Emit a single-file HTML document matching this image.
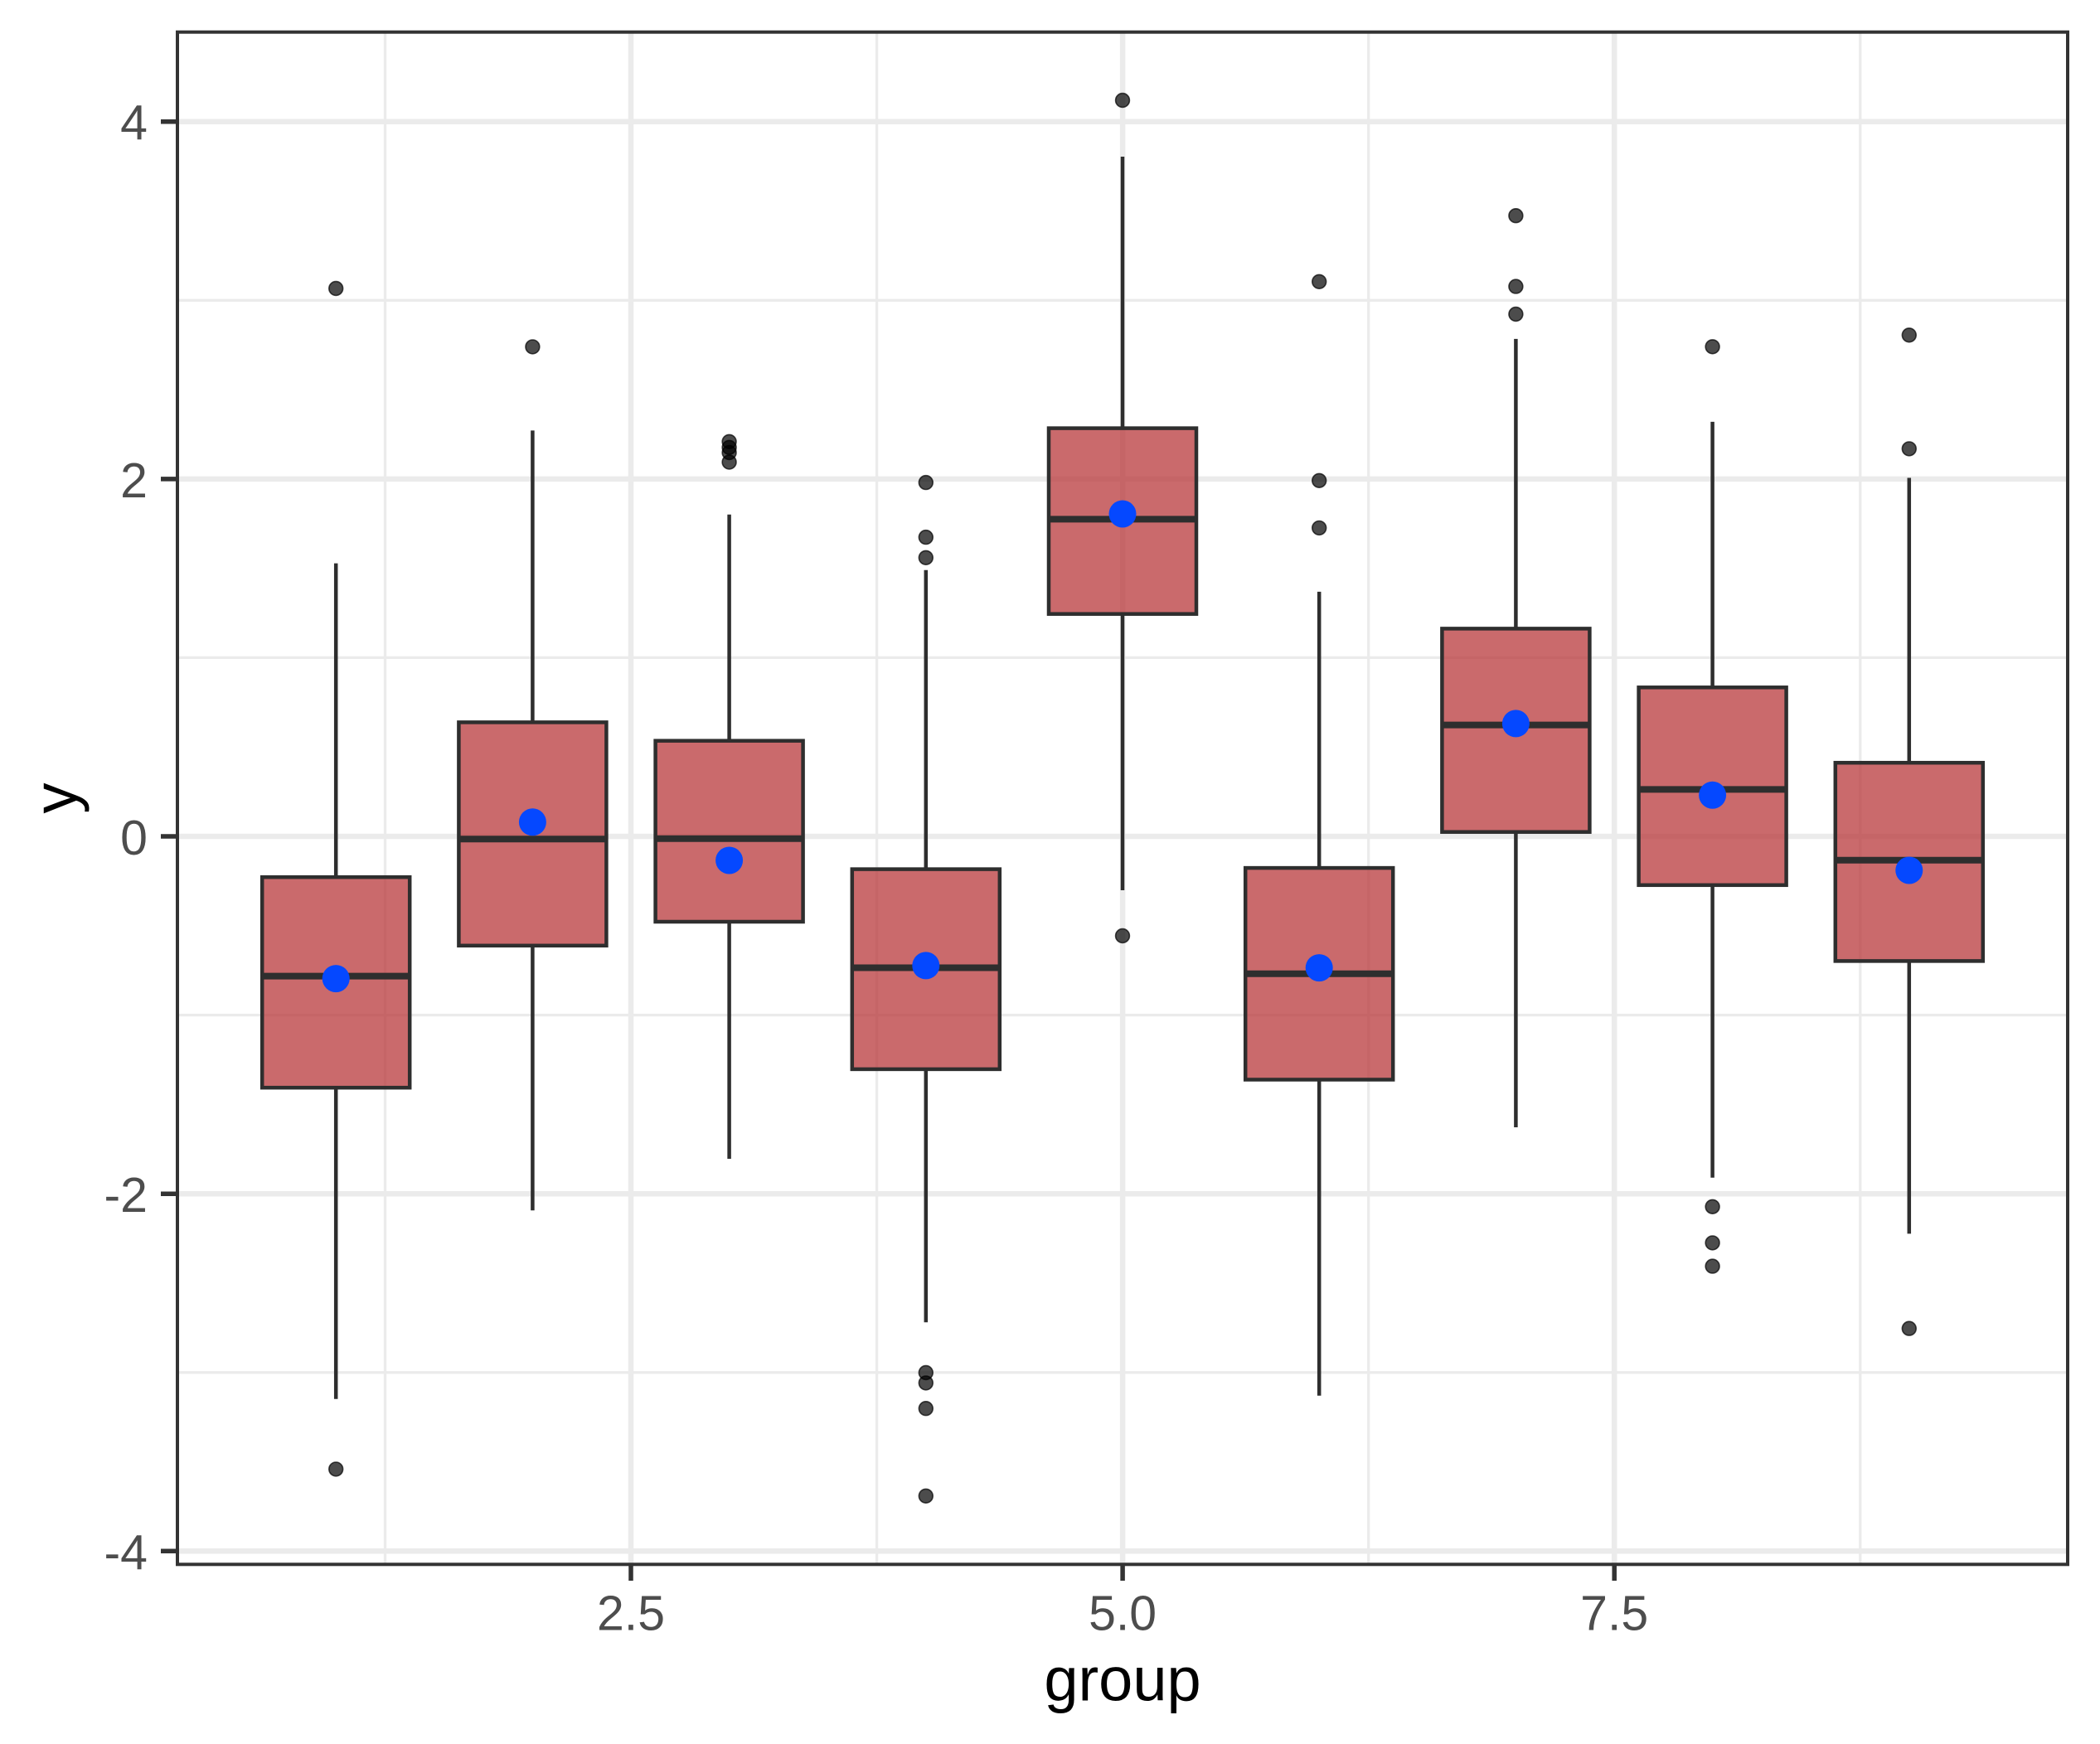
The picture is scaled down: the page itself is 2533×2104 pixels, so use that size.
<!DOCTYPE html>
<html>
<head>
<meta charset="utf-8">
<style>
html,body{margin:0;padding:0;background:#fff;}
svg{display:block;}
text{font-family:"Liberation Sans",Arial,sans-serif;}
</style>
</head>
<body>
<svg width="2533" height="2104" viewBox="0 0 2533 2104" xmlns="http://www.w3.org/2000/svg">
<rect x="0" y="0" width="2533" height="2104" fill="#ffffff"/>
<!-- minor grid -->
<g stroke="#EBEBEB" stroke-width="3.3">
<line x1="214" x2="2494" y1="362.3" y2="362.3"/>
<line x1="214" x2="2494" y1="793.4" y2="793.4"/>
<line x1="214" x2="2494" y1="1224.6" y2="1224.6"/>
<line x1="214" x2="2494" y1="1655.8" y2="1655.8"/>
<line y1="38.7" y2="1887.3" x1="464.5" x2="464.5"/>
<line y1="38.7" y2="1887.3" x1="1057.6" x2="1057.6"/>
<line y1="38.7" y2="1887.3" x1="1650.7" x2="1650.7"/>
<line y1="38.7" y2="1887.3" x1="2243.8" x2="2243.8"/>
</g>
<!-- major grid -->
<g stroke="#EBEBEB" stroke-width="6.5">
<line x1="214" x2="2494" y1="146.7" y2="146.7"/>
<line x1="214" x2="2494" y1="577.9" y2="577.9"/>
<line x1="214" x2="2494" y1="1009" y2="1009"/>
<line x1="214" x2="2494" y1="1440.2" y2="1440.2"/>
<line x1="214" x2="2494" y1="1871.3" y2="1871.3"/>
<line y1="38.7" y2="1887.3" x1="761" x2="761"/>
<line y1="38.7" y2="1887.3" x1="1354.1" x2="1354.1"/>
<line y1="38.7" y2="1887.3" x1="1947.2" x2="1947.2"/>
</g>

<!-- boxplots -->
<g stroke="#2e2e2e" stroke-width="4.5">
<!-- G1 -->
<line x1="405.2" x2="405.2" y1="679.6" y2="1058.2"/>
<line x1="405.2" x2="405.2" y1="1312.2" y2="1687.8"/>
<rect x="316.2" y="1058.2" width="178" height="254" fill="rgb(184,56,59)" fill-opacity="0.75"/>
<line x1="316.2" x2="494.2" y1="1177.6" y2="1177.6" stroke-width="8"/>
<!-- G2 -->
<line x1="642.4" x2="642.4" y1="519.4" y2="871.4"/>
<line x1="642.4" x2="642.4" y1="1140.8" y2="1460.2"/>
<rect x="553.4" y="871.4" width="178" height="269.4" fill="rgb(184,56,59)" fill-opacity="0.75"/>
<line x1="553.4" x2="731.4" y1="1012.2" y2="1012.2" stroke-width="8"/>
<!-- G3 -->
<line x1="879.6" x2="879.6" y1="620.8" y2="893.7"/>
<line x1="879.6" x2="879.6" y1="1112" y2="1398"/>
<rect x="790.6" y="893.7" width="178" height="218.3" fill="rgb(184,56,59)" fill-opacity="0.75"/>
<line x1="790.6" x2="968.6" y1="1011.7" y2="1011.7" stroke-width="8"/>
<!-- G4 -->
<line x1="1116.8" x2="1116.8" y1="687.7" y2="1048.6"/>
<line x1="1116.8" x2="1116.8" y1="1289.9" y2="1595.3"/>
<rect x="1027.8" y="1048.6" width="178" height="241.3" fill="rgb(184,56,59)" fill-opacity="0.75"/>
<line x1="1027.8" x2="1205.8" y1="1167.5" y2="1167.5" stroke-width="8"/>
<!-- G5 -->
<line x1="1354" x2="1354" y1="189" y2="516.6"/>
<line x1="1354" x2="1354" y1="740.7" y2="1074"/>
<rect x="1265" y="516.6" width="178" height="224.1" fill="rgb(184,56,59)" fill-opacity="0.75"/>
<line x1="1265" x2="1443" y1="626.4" y2="626.4" stroke-width="8"/>
<!-- G6 -->
<line x1="1591.2" x2="1591.2" y1="713.9" y2="1047.1"/>
<line x1="1591.2" x2="1591.2" y1="1302.5" y2="1683.8"/>
<rect x="1502.2" y="1047.1" width="178" height="255.4" fill="rgb(184,56,59)" fill-opacity="0.75"/>
<line x1="1502.2" x2="1680.2" y1="1174.8" y2="1174.8" stroke-width="8"/>
<!-- G7 -->
<line x1="1828.4" x2="1828.4" y1="408.9" y2="758.4"/>
<line x1="1828.4" x2="1828.4" y1="1003.7" y2="1360"/>
<rect x="1739.4" y="758.4" width="178" height="245.3" fill="rgb(184,56,59)" fill-opacity="0.75"/>
<line x1="1739.4" x2="1917.4" y1="874.6" y2="874.6" stroke-width="8"/>
<!-- G8 -->
<line x1="2065.6" x2="2065.6" y1="508.9" y2="829.3"/>
<line x1="2065.6" x2="2065.6" y1="1067.8" y2="1420.8"/>
<rect x="1976.6" y="829.3" width="178" height="238.5" fill="rgb(184,56,59)" fill-opacity="0.75"/>
<line x1="1976.6" x2="2154.6" y1="952.4" y2="952.4" stroke-width="8"/>
<!-- G9 -->
<line x1="2302.8" x2="2302.8" y1="576.5" y2="920.2"/>
<line x1="2302.8" x2="2302.8" y1="1159.4" y2="1488.4"/>
<rect x="2213.8" y="920.2" width="178" height="239.2" fill="rgb(184,56,59)" fill-opacity="0.75"/>
<line x1="2213.8" x2="2391.8" y1="1037.8" y2="1037.8" stroke-width="8"/>
</g>

<!-- outliers -->
<g fill="rgba(0,0,0,0.7)" stroke="rgba(0,0,0,0.7)" stroke-width="1.6">
<circle cx="405.2" cy="348" r="8.4"/>
<circle cx="405.2" cy="1772.4" r="8.4"/>
<circle cx="642.4" cy="418.4" r="8.4"/>
<circle cx="879.6" cy="532.8" r="8.4"/>
<circle cx="879.6" cy="539.8" r="8.4"/>
<circle cx="879.6" cy="546" r="8.4"/>
<circle cx="879.6" cy="557.5" r="8.4"/>
<circle cx="1116.8" cy="582.1" r="8.4"/>
<circle cx="1116.8" cy="648.1" r="8.4"/>
<circle cx="1116.8" cy="672.8" r="8.4"/>
<circle cx="1116.8" cy="1656" r="8.4"/>
<circle cx="1116.8" cy="1668.4" r="8.4"/>
<circle cx="1116.8" cy="1699.2" r="8.4"/>
<circle cx="1116.8" cy="1804.8" r="8.4"/>
<circle cx="1354" cy="121" r="8.4"/>
<circle cx="1354" cy="1129" r="8.4"/>
<circle cx="1591.2" cy="339.8" r="8.4"/>
<circle cx="1591.2" cy="579.8" r="8.4"/>
<circle cx="1591.2" cy="636.9" r="8.4"/>
<circle cx="1828.4" cy="260.2" r="8.4"/>
<circle cx="1828.4" cy="345.6" r="8.4"/>
<circle cx="1828.4" cy="379" r="8.4"/>
<circle cx="2065.6" cy="418.3" r="8.4"/>
<circle cx="2065.6" cy="1455.8" r="8.4"/>
<circle cx="2065.6" cy="1499.4" r="8.4"/>
<circle cx="2065.6" cy="1527.6" r="8.4"/>
<circle cx="2302.8" cy="404.3" r="8.4"/>
<circle cx="2302.8" cy="541.4" r="8.4"/>
<circle cx="2302.8" cy="1602.7" r="8.4"/>
</g>

<!-- means -->
<g fill="#0548FF">
<circle cx="405.2" cy="1180.6" r="16.5"/>
<circle cx="642.4" cy="991.8" r="16.5"/>
<circle cx="879.6" cy="1038" r="16.5"/>
<circle cx="1116.8" cy="1164.9" r="16.5"/>
<circle cx="1354" cy="620" r="16.5"/>
<circle cx="1591.2" cy="1167.6" r="16.5"/>
<circle cx="1828.4" cy="872.9" r="16.5"/>
<circle cx="2065.6" cy="959.2" r="16.5"/>
<circle cx="2302.8" cy="1050" r="16.5"/>
</g>

<!-- panel border -->
<rect x="214" y="38.7" width="2280" height="1848.6" fill="none" stroke="#333333" stroke-width="4"/>

<!-- ticks -->
<g stroke="#333333" stroke-width="5.5">
<line x1="194" x2="212" y1="146.7" y2="146.7"/>
<line x1="194" x2="212" y1="577.9" y2="577.9"/>
<line x1="194" x2="212" y1="1009" y2="1009"/>
<line x1="194" x2="212" y1="1440.2" y2="1440.2"/>
<line x1="194" x2="212" y1="1871.3" y2="1871.3"/>
<line y1="1889" y2="1907" x1="761" x2="761"/>
<line y1="1889" y2="1907" x1="1354.1" x2="1354.1"/>
<line y1="1889" y2="1907" x1="1947.2" x2="1947.2"/>
</g>

<!-- tick labels -->
<g fill="#4D4D4D" font-size="59" text-anchor="end">
<text x="178" y="168.7">4</text>
<text x="178" y="599.9">2</text>
<text x="178" y="1031">0</text>
<text x="178" y="1462.2">-2</text>
<text x="178" y="1893.3">-4</text>
</g>
<g fill="#4D4D4D" font-size="59" text-anchor="middle">
<text x="761" y="1966.7">2.5</text>
<text x="1354.1" y="1966.7">5.0</text>
<text x="1947.2" y="1966.7">7.5</text>
</g>

<!-- axis titles -->
<text x="1354" y="2051.7" font-size="74" text-anchor="middle" fill="#000">group</text>
<text transform="translate(92,963) rotate(-90)" x="0" y="0" font-size="74" text-anchor="middle" fill="#000">y</text>
</svg>
</body>
</html>
